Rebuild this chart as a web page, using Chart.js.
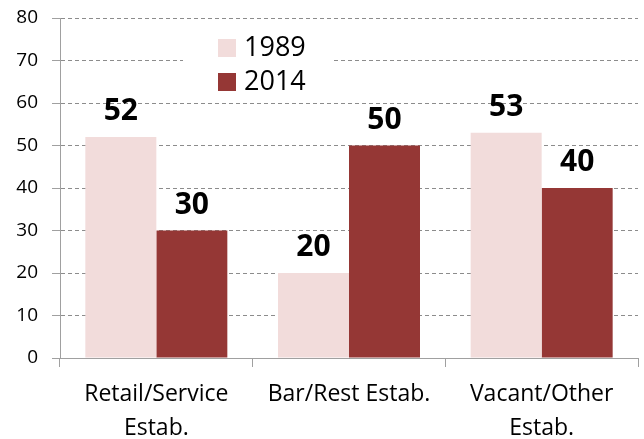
<!DOCTYPE html>
<html>
<head>
<meta charset="utf-8">
<script src="https://cdn.jsdelivr.net/npm/chart.js@4"></script>
<style>
  html, body { margin: 0; padding: 0; background: #fff; }
  #wrap { width: 644px; height: 439px; }
</style>
</head>
<body>
<div id="wrap"><canvas id="myChart"></canvas></div>
<script>
const categories = [['Retail/Service', 'Estab.'], 'Bar/Rest Estab.', ['Vacant/Other', 'Estab.']];
const seriesNames = ['1989', '2014'];
const values1989 = [52, 20, 53];
const values2014 = [30, 50, 40];
const yTicks = [0, 10, 20, 30, 40, 50, 60, 70, 80];

const colors = ['#F2DCDB', '#953735'];
const FONT = "'Open Sans', sans-serif";

// bold numbers above each bar
const barLabels = {
  id: 'barLabels',
  afterDatasetsDraw(chart) {
    const ctx = chart.ctx;
    ctx.save();
    ctx.font = "bold 30px " + FONT;
    ctx.fillStyle = '#000';
    ctx.textAlign = 'center';
    ctx.textBaseline = 'alphabetic';
    chart.data.datasets.forEach((ds, i) => {
      chart.getDatasetMeta(i).data.forEach((bar, j) => {
        ctx.fillText(ds.data[j], bar.x, bar.y - 17);
      });
    });
    ctx.restore();
  }
};

// legend box sitting inside the plot, over the gridlines
const insideLegend = {
  id: 'insideLegend',
  afterDraw(chart) {
    const ctx = chart.ctx;
    const a = chart.chartArea;
    const x = a.left + 123, y = a.top + 11;
    ctx.save();
    ctx.fillStyle = '#fff';
    ctx.fillRect(x, y, 151, 70);
    ctx.font = "27px " + FONT;
    ctx.textBaseline = 'middle';
    chart.data.datasets.forEach((ds, i) => {
      const ry = y + 10 + i * 34;
      ctx.fillStyle = ds.backgroundColor;
      ctx.fillRect(x + 35, ry, 18, 18);
      ctx.fillStyle = '#000';
      ctx.fillText(ds.label, x + 61, ry + 9);
    });
    ctx.restore();
  }
};

new Chart(document.getElementById('myChart'), {
  type: 'bar',
  data: {
    labels: categories,
    datasets: [
      { label: seriesNames[0], data: values1989, backgroundColor: colors[0] },
      { label: seriesNames[1], data: values2014, backgroundColor: colors[1] }
    ]
  },
  options: {
    responsive: true,
    maintainAspectRatio: false,
    animation: false,
    layout: { padding: { top: 18, right: 6, left: 0, bottom: 0 } },
    datasets: { bar: { categoryPercentage: 0.737, barPercentage: 1.0 } },
    plugins: {
      legend: { display: false },
      tooltip: { enabled: false }
    },
    scales: {
      x: {
        grid: {
          offset: true,
          drawOnChartArea: false,
          drawTicks: true,
          tickLength: 9,
          tickColor: '#a0a0a0'
        },
        border: { display: true, color: '#a0a0a0', width: 1 },
        ticks: {
          color: '#000',
          font: { family: FONT, size: 23, lineHeight: 1.48 },
          padding: 10,
          maxRotation: 0
        },
        afterFit(scale) {
          scale.height = 81;
          scale.paddingLeft = 0;
          scale.paddingRight = 0;
        }
      },
      y: {
        min: 0,
        max: 80,
        afterBuildTicks(scale) { scale.ticks = yTicks.map(v => ({ value: v })); },
        grid: {
          color: '#8c8c8c',
          lineWidth: 1,
          tickLength: 8,
          tickColor: '#a0a0a0',
          tickBorderDash: []
        },
        border: { display: true, color: '#a0a0a0', width: 1, dash: [4, 3] },
        ticks: {
          color: '#000',
          font: { family: FONT, size: 19 },
          padding: 14
        },
        afterFit(scale) {
          scale.width = 60;
          scale.paddingTop = 0;
          scale.paddingBottom = 0;
        }
      }
    }
  },
  plugins: [barLabels, insideLegend]
});
</script>
</body>
</html>
